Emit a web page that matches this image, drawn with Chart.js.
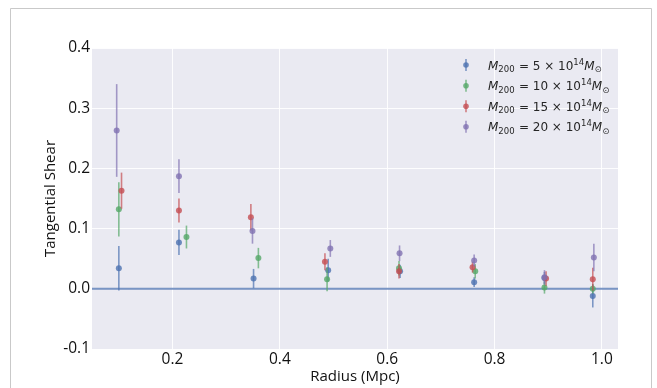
<!DOCTYPE html>
<html><head><meta charset="utf-8">
<script src="https://cdn.jsdelivr.net/npm/chart.js@4.4.0/dist/chart.umd.min.js"></script>
<style>html,body{margin:0;padding:0;background:#fff;}</style>
</head><body>
<canvas id="c" width="657" height="388" style="width:657px;height:388px;display:block"></canvas>
<script>
// ---- data ----
const seriesMass = ['5', '10', '15', '20'];
const seriesColors = ['76,114,176', '85,168,104', '196,78,82', '129,114,178'];

const radius5  = [0.100, 0.212, 0.351, 0.490, 0.624, 0.762, 0.893, 0.983];
const shear5   = [0.034, 0.077, 0.017, 0.031, 0.029, 0.011, 0.018, -0.012];
const err5     = [0.037, 0.021, 0.016, 0.019, 0.011, 0.008, 0.010, 0.019];

const radius10 = [0.100, 0.226, 0.360, 0.488, 0.622, 0.764, 0.893, 0.983];
const shear10  = [0.132, 0.086, 0.051, 0.016, 0.034, 0.029, 0.002, 0.000];
const err10    = [0.045, 0.019, 0.017, 0.020, 0.012, 0.012, 0.010, 0.008];

const radius15 = [0.105, 0.212, 0.346, 0.484, 0.622, 0.759, 0.896, 0.983];
const shear15  = [0.163, 0.130, 0.119, 0.045, 0.029, 0.036, 0.017, 0.016];
const err15    = [0.030, 0.020, 0.022, 0.014, 0.012, 0.009, 0.012, 0.019];

const radius20 = [0.096, 0.212, 0.349, 0.494, 0.623, 0.762, 0.893, 0.985];
const shear20  = [0.263, 0.187, 0.096, 0.067, 0.059, 0.047, 0.019, 0.052];
const err20    = [0.077, 0.028, 0.021, 0.014, 0.013, 0.010, 0.012, 0.023];

const xTicks = [0.2, 0.4, 0.6, 0.8, 1.0];
const yTicks = [-0.1, 0.0, 0.1, 0.2, 0.3, 0.4];
const xRange = [0.05, 1.03];
const yRange = [-0.1, 0.4];
const zeroLine = [0.0];

const radii = [radius5, radius10, radius15, radius20];
const shears = [shear5, shear10, shear15, shear20];
const errs = [err5, err10, err15, err20];

const datasets = seriesMass.map((m, i) => ({
  type: 'scatter',
  label: m,
  data: radii[i].map((x, j) => ({x: x, y: shears[i][j], e: errs[i][j]})),
  backgroundColor: 'rgba(' + seriesColors[i] + ',0.8)',
  borderColor: 'rgba(' + seriesColors[i] + ',0.8)',
  borderWidth: 0,
  pointRadius: 3,
  pointHoverRadius: 3,
  order: 4 - i,
  errColor: 'rgba(' + seriesColors[i] + ',0.7)'
}));
datasets.push({
  type: 'line',
  label: 'zero',
  data: [{x: xRange[0], y: zeroLine[0]}, {x: xRange[1], y: zeroLine[0]}],
  borderColor: 'rgba(76,114,176,0.75)',
  borderWidth: 2,
  pointRadius: 0,
  order: 10,
  isZero: true
});

const bgPlugin = {
  id: 'bg',
  beforeDraw(chart) {
    const {ctx, chartArea: a} = chart;
    ctx.save();
    ctx.fillStyle = '#ffffff';
    ctx.fillRect(0, 0, chart.width, chart.height);
    ctx.fillStyle = '#EAEAF2';
    ctx.fillRect(a.left, a.top, a.right - a.left, a.bottom - a.top);
    ctx.strokeStyle = '#c9c9c9';
    ctx.lineWidth = 1;
    ctx.beginPath();
    ctx.moveTo(10.5, 388); ctx.lineTo(10.5, 8.5); ctx.lineTo(651.5, 8.5); ctx.lineTo(651.5, 388);
    ctx.stroke();
    ctx.restore();
  }
};

const errPlugin = {
  id: 'errbars',
  beforeDatasetDraw(chart, args) {
    const ds = chart.data.datasets[args.index];
    if (ds.isZero) return;
    const ctx = chart.ctx, ys = chart.scales.y, xs = chart.scales.x;
    ctx.save();
    ctx.strokeStyle = ds.errColor;
    ctx.lineWidth = 1.6;
    ds.data.forEach(p => {
      const px = xs.getPixelForValue(p.x);
      ctx.beginPath();
      ctx.moveTo(px, ys.getPixelForValue(p.y - p.e));
      ctx.lineTo(px, ys.getPixelForValue(p.y + p.e));
      ctx.stroke();
    });
    ctx.restore();
  }
};

function drawLabel(ctx, x, y, num) {
  const fam = '"DejaVu Sans"';
  const big = 12, small = 8.5;
  const parts = [
    {t: 'M', f: 'italic ' + big + 'px ' + fam, dy: 0, gap: 0},
    {t: '200', f: small + 'px ' + fam, dy: 2.5, gap: 0.5},
    {t: ' = ' + num + ' × 10', f: big + 'px ' + fam, dy: 0, gap: 0},
    {t: '14', f: small + 'px ' + fam, dy: -5, gap: 0},
    {t: 'M', f: 'italic ' + big + 'px ' + fam, dy: 0, gap: 0},
    {t: '⊙', f: small + 'px ' + fam, dy: 2.5, gap: 0}
  ];
  ctx.textBaseline = 'alphabetic';
  ctx.textAlign = 'left';
  let cx = x;
  parts.forEach(p => {
    ctx.font = p.f;
    ctx.fillText(p.t, cx, y + p.dy);
    cx += ctx.measureText(p.t).width + p.gap;
  });
}

const legendPlugin = {
  id: 'mlegend',
  afterDraw(chart) {
    const ctx = chart.ctx;
    ctx.save();
    const rows = [65, 85.7, 106.3, 126.7];
    seriesMass.forEach((m, i) => {
      const ds = chart.data.datasets[i];
      const y = rows[i];
      ctx.strokeStyle = ds.errColor;
      ctx.lineWidth = 1.6;
      ctx.beginPath(); ctx.moveTo(466, y - 6); ctx.lineTo(466, y + 6); ctx.stroke();
      ctx.fillStyle = ds.backgroundColor;
      ctx.beginPath(); ctx.arc(466, y, 2.8, 0, Math.PI * 2); ctx.fill();
      ctx.fillStyle = '#262626';
      drawLabel(ctx, 488, y + 4.5, m);
    });
    ctx.restore();
  }
};

const tickFont = {family: '"Open Sans"', size: 15.5};
const titleFont = {family: '"Open Sans"', size: 15};
new Chart(document.getElementById('c'), {
  data: {datasets: datasets},
  options: {
    responsive: false,
    animation: false,
    devicePixelRatio: 1,
    layout: {padding: {left: 0, right: 39, top: 48, bottom: 0}},
    plugins: {legend: {display: false}, tooltip: {enabled: false}},
    scales: {
      x: {
        type: 'linear', position: 'bottom', min: xRange[0], max: xRange[1],
        afterBuildTicks: s => { s.ticks = xTicks.map(v => ({value: v})); },
        afterFit: s => { s.height = 39; },
        ticks: {callback: v => Number(v).toFixed(1), font: tickFont, color: '#111', padding: 1, maxRotation: 0, autoSkip: false},
        grid: {color: 'rgba(255,255,255,0.9)', lineWidth: 1, drawTicks: false},
        border: {display: false},
        title: {display: true, text: 'Radius (Mpc)', font: titleFont, color: '#111', padding: {top: 0, bottom: 2}}
      },
      y: {
        type: 'linear', position: 'left', min: yRange[0], max: yRange[1],
        afterBuildTicks: s => { s.ticks = yTicks.map(v => ({value: v})); },
        afterFit: s => { s.width = 92; },
        ticks: {callback: v => Number(v).toFixed(1), font: tickFont, color: '#111', padding: 2, autoSkip: false},
        grid: {color: 'rgba(255,255,255,0.9)', lineWidth: 1, drawTicks: false},
        border: {display: false},
        title: {display: true, text: 'Tangential Shear', font: titleFont, color: '#111', padding: {top: 42, bottom: 0}}
      }
    }
  },
  plugins: [bgPlugin, errPlugin, legendPlugin]
});
</script>
</body></html>
